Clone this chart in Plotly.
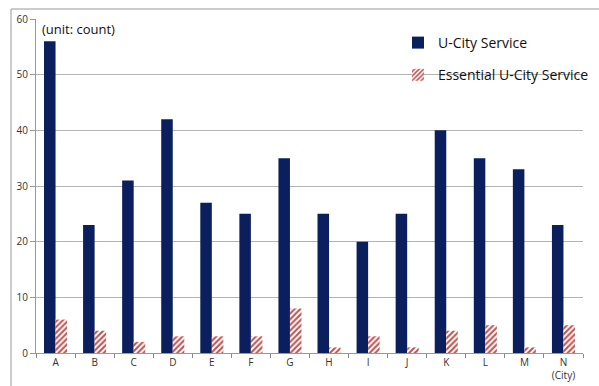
import plotly.graph_objects as go

cities = ["A", "B", "C", "D", "E", "F", "G", "H", "I", "J", "K", "L", "M", "N"]
city_labels = ["A", "B", "C", "D", "E", "F", "G", "H", "I", "J", "K", "L", "M", "N<br>(City)"]
u_city = [56, 23, 31, 42, 27, 25, 35, 25, 20, 25, 40, 35, 33, 23]
essential = [6, 4, 2, 3, 3, 3, 8, 1, 3, 1, 4, 5, 1, 5]
y_ticks = [0, 10, 20, 30, 40, 50, 60]

W, H = 599, 386
L, R, T, B = 36, 16, 19, 33
pw, ph = W - L - R, H - T - B

def px_x(v):
    return (v - L) / pw

def px_y(v):
    return (H - B - v) / ph

fig = go.Figure()
fig.add_trace(go.Bar(
    x=cities, y=u_city, name="U-City Service",
    marker=dict(color="#0b1f5e", line=dict(width=0)),
    legendgroup="a",
))
fig.add_trace(go.Bar(
    x=cities, y=essential, name="Essential U-City Service",
    marker=dict(color="white", line=dict(width=0),
                pattern=dict(shape="/", fgcolor="#c0504d", bgcolor="white",
                             size=4, solidity=0.5, fillmode="replace")),
    legendgroup="b",
))

fig.update_layout(
    width=W, height=H,
    margin=dict(l=L, r=R, t=T, b=B, autoexpand=False),
    paper_bgcolor="white", plot_bgcolor="white",
    barmode="group", bargap=0.41, bargroupgap=0,
    font=dict(family="Open Sans, Liberation Sans, sans-serif", color="#222"),
    showlegend=True,
    legend=dict(x=px_x(398), y=px_y(27), xanchor="left", yanchor="top",
                bgcolor="rgba(0,0,0,0)", font=dict(size=14, color="#111"),
                tracegroupgap=11, itemwidth=30),
    xaxis=dict(
        tickmode="array", tickvals=cities, ticktext=city_labels,
        tickson="boundaries", ticks="outside", ticklen=4, tickcolor="#888",
        showline=True, linecolor="#999", linewidth=1, automargin=False,
        tickfont=dict(size=10, color="#333"), showgrid=False,
    ),
    yaxis=dict(
        range=[0, 60], tickvals=y_ticks, ticks="outside", ticklen=5,
        tickcolor="#999", showline=True, linecolor="#999", linewidth=1,
        showgrid=True, gridcolor="#b3b3b3", gridwidth=1, automargin=False,
        tickfont=dict(size=10, color="#333"), zeroline=False,
    ),
    annotations=[dict(
        text="(unit: count)", xref="paper", yref="paper",
        x=px_x(40), y=px_y(29), xanchor="left", yanchor="middle",
        showarrow=False, font=dict(size=13, color="#111"),
    )],
    shapes=[
        dict(type="line", xref="paper", yref="paper",
             x0=px_x(11), x1=px_x(11), y0=px_y(9), y1=px_y(H),
             line=dict(color="#999", width=1)),
        dict(type="line", xref="paper", yref="paper",
             x0=px_x(11), x1=px_x(W), y0=px_y(9), y1=px_y(9),
             line=dict(color="#999", width=1)),
    ],
)

fig.write_html("out.html")
